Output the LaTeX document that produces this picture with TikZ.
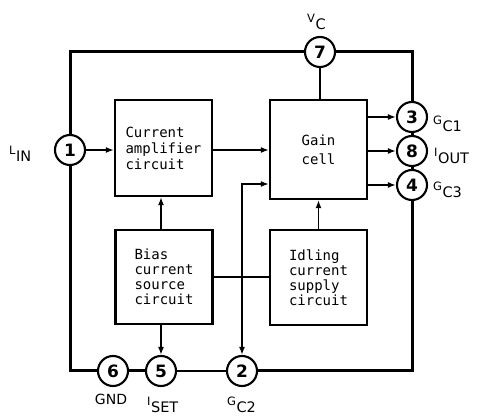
\documentclass[tikz,border=0pt]{standalone}
\usepackage{fontspec}
\setmainfont{DejaVu Sans}
\newfontfamily\boxfont{DejaVu Sans Mono}
\usetikzlibrary{arrows.meta}
\newcommand\pinlbl[2]{\raisebox{7pt}{\fontsize{11.5}{11.5}\selectfont #1}\kern0.5pt{\fontsize{14.5}{14.5}\selectfont #2}}
\begin{document}
\begin{tikzpicture}[x=1pt,y=-1pt,
  thickw/.style={line width=3pt},
  thinw/.style={line width=1.5pt},
  arr/.style={thinw,-{Latex[length=8pt,width=6pt]}},
  darr/.style={thinw,{Latex[length=8pt,width=6pt]}-{Latex[length=8pt,width=6pt]}},
  blk/.style={draw,line width=2.3pt,minimum width=97pt,minimum height=96pt,inner sep=0pt,align=left,font=\boxfont\fontsize{14}{16}\selectfont},
  pin/.style={draw,circle,line width=2.1pt,minimum size=30pt,inner sep=0pt,font=\bfseries\fontsize{17}{17}\selectfont},
  lbl/.style={inner sep=0pt,anchor=base west}]
\useasboundingbox (0,0) rectangle (477,419);
% blocks
\node[blk] (amp) at (163.5,148) {Current\\amplifier\\circuit};
\node[blk,minimum height=99pt,font=\boxfont\fontsize{14}{19}\selectfont] (gain) at (318.5,149.5) {Gain\\cell};
\node[blk,minimum height=94pt,font=\boxfont\fontsize{14}{15}\selectfont] (bias) at (164,277) {Bias\\current\\source\\circuit};
\node[blk,minimum height=95pt,font=\boxfont\fontsize{14}{15}\selectfont] (idl) at (318.5,277.5) {Idling\\current\\supply\\circuit};
% pins
\node[pin] (p7) at (320,52) {7};
\node[pin] (p1) at (70,150) {1};
\node[pin] (p3) at (412,117) {3};
\node[pin] (p8) at (412,151) {8};
\node[pin] (p4) at (412,185) {4};
\node[pin] (p6) at (113,371) {6};
\node[pin] (p5) at (161,371) {5};
\node[pin] (p2) at (242,371) {2};
\coordinate (g2) at (0,184);
% frame
\draw[thickw] (p1.north) |- (p7.west);
\draw[thickw] (p7.east) -| (p3.north);
\draw[thickw] (p3) -- (p8);
\draw[thickw] (p8) -- (p4);
\draw[thickw] (p1.south) |- (p6.west);
\draw[thickw] (p6) -- (p5);
\draw[line width=2.3pt] (p5) -- (p2);
\draw[thickw] (p2.east) -| (p4.south);
% connections
\draw[thinw] (p7.south) -- (p7.south |- gain.north);
\draw[arr] (p1.east) -- (p1.east -| amp.west);
\draw[arr] (amp.east |- p1) -- (gain.west |- p1);
\draw[arr] (gain.east |- p3) -- (p3.west);
\draw[arr] (gain.east |- p8) -- (p8.west);
\draw[arr] (gain.east |- p4) -- (p4.west);
\draw[darr] (gain.west |- g2) -| (p2.north);
\draw[arr] (p5 |- bias.north) -- (p5 |- amp.south);
\draw[arr] (p5 |- bias.south) -- (p5.north);
\draw[arr] (idl.north) -- (gain.south);
\draw[thinw] (bias.east) -- (bias.east -| idl.west);
% labels
\node[lbl] (lvc) at (307,30) {\pinlbl{V}{C}};
\node[lbl] (lgc1) at (433,132) {\pinlbl{G}{C1}};
\node[lbl] (lout) at (434,164) {\pinlbl{I}{OUT}};
\node[lbl] (lgc3) at (433,198) {\pinlbl{G}{C3}};
\node[lbl] (lin) at (9,162) {\pinlbl{L}{IN}};
\node[inner sep=0pt,anchor=base,font=\fontsize{14}{14}\selectfont] (lgnd) at (111,405) {GND};
\node[lbl] (lset) at (147,413) {\pinlbl{I}{SET}};
\node[lbl] (lgc2) at (227,413) {\pinlbl{G}{C2}};
\end{tikzpicture}
\end{document}
